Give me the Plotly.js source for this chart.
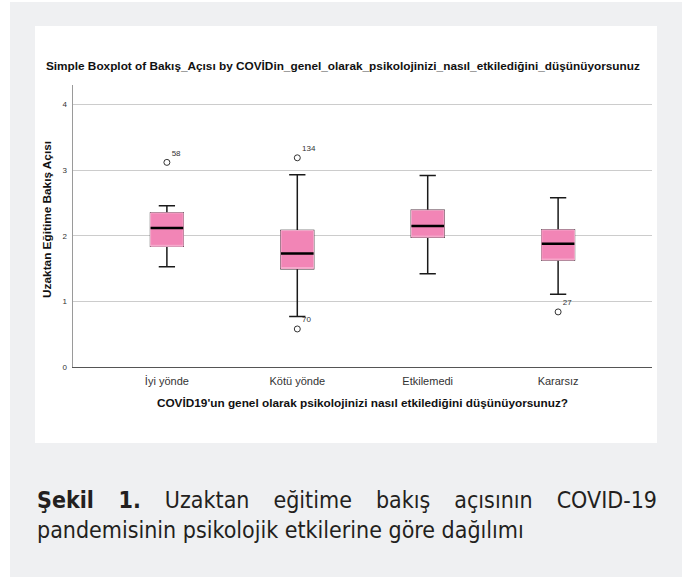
<!DOCTYPE html>
<html>
<head>
<meta charset="utf-8">
<script src="https://cdn.plot.ly/plotly-3.0.1.min.js"></script>
<style>
  html, body { margin: 0; padding: 0; background: #ffffff; width: 682px; height: 577px; overflow: hidden; }
  #bg { position: absolute; left: 10px; top: 2px; width: 672px; height: 575px; background: #eff0f2; }
  #chart { position: absolute; left: 35px; top: 26px; width: 622px; height: 417px; background: #ffffff; }
  #caption { position: absolute; left: 37px; top: 485px; width: 620px;
    font-family: "Liberation Sans Narrow", "DejaVu Sans Condensed", "Liberation Sans", sans-serif;
    font-stretch: condensed; font-size: 23px; line-height: 30px; color: #231f20;
    text-align: justify; }
</style>
</head>
<body>
<div id="bg"></div>
<div id="chart"></div>
<div id="caption"><b>Şekil 1.</b> Uzaktan eğitime bakış açısının COVID-19 pandemisinin psikolojik etkilerine göre dağılımı</div>
<script>
const categories = ['İyi yönde', 'Kötü yönde', 'Etkilemedi', 'Kararsız'];
const q1 = [1.84, 1.50, 1.98, 1.63];
const median = [2.12, 1.73, 2.15, 1.88];
const q3 = [2.35, 2.08, 2.39, 2.09];
const lowerWhisker = [1.53, 0.77, 1.42, 1.11];
const upperWhisker = [2.46, 2.93, 2.92, 2.58];
const outlierCat = ['İyi yönde', 'Kötü yönde', 'Kötü yönde', 'Kararsız'];
const outlierVal = [3.12, 3.19, 0.58, 0.84];
const outlierId = ['58', '134', '70', '27'];
const yTicks = [0, 1, 2, 3, 4];

const pink = '#f285b6';
const pinkEdge = '#f7b0d0';
const boxW = 0.25;

const whiskers = {
  type: 'box', x: categories, q1: q1, median: median, q3: q3,
  lowerfence: lowerWhisker, upperfence: upperWhisker,
  width: boxW, whiskerwidth: 0.5, boxpoints: false,
  fillcolor: pink, line: { color: '#1a1a1a', width: 1.5 },
  hoverinfo: 'skip', showlegend: false
};
const boxes = {
  type: 'box', x: categories, q1: q1, median: q1, q3: q3,
  lowerfence: q1, upperfence: q3,
  width: boxW, whiskerwidth: 0, boxpoints: false,
  fillcolor: pink, line: { color: pinkEdge, width: 1 },
  hoverinfo: 'skip', showlegend: false
};
const medians = {
  type: 'box', x: categories, q1: median, median: median, q3: median,
  lowerfence: median, upperfence: median,
  width: boxW, whiskerwidth: 0, boxpoints: false,
  fillcolor: 'rgba(0,0,0,0)', line: { color: '#000000', width: 2.5 },
  hoverinfo: 'skip', showlegend: false
};
const outliers = {
  type: 'scatter', mode: 'markers+text', x: outlierCat, y: outlierVal,
  text: outlierId, textposition: 'top right',
  textfont: { family: 'Liberation Sans, Arial, sans-serif', size: 8, color: '#333333' },
  marker: { symbol: 'circle-open', size: 6, color: '#333', line: { width: 1, color: '#333' } },
  hoverinfo: 'skip', showlegend: false
};

const layout = {
  width: 622, height: 417,
  margin: { l: 38, r: 5, t: 59, b: 76 },
  paper_bgcolor: '#ffffff', plot_bgcolor: '#ffffff',
  boxmode: 'overlay',
  font: { family: 'Liberation Sans, Arial, sans-serif', color: '#222' },
  title: {
    text: '<b>Simple Boxplot of Bakış_Açısı by COVİDin_genel_olarak_psikolojinizi_nasıl_etkilediğini_düşünüyorsunuz</b>',
    font: { size: 11.8, color: '#111' },
    xref: 'container', x: 0.495, xanchor: 'center',
    yref: 'container', y: 0.904, yanchor: 'middle'
  },
  xaxis: {
    type: 'category', range: [-0.72, 3.72],
    showgrid: false, zeroline: false,
    showline: true, linecolor: '#555', linewidth: 1,
    ticks: 'outside', ticklen: 4, tickcolor: 'rgba(0,0,0,0)',
    tickfont: { size: 11, color: '#333' },
    title: { text: '<b>COVİD19\'un genel olarak psikolojinizi nasıl etkilediğini düşünüyorsunuz?</b>',
      font: { size: 11.8, color: '#111' }, standoff: 12 }
  },
  yaxis: {
    range: [0, 4.3], tickvals: yTicks, ticktext: yTicks.map(String),
    showgrid: true, gridcolor: '#cccccc', gridwidth: 1,
    zeroline: false,
    showline: true, linecolor: '#9a9a9a', linewidth: 1.5,
    ticks: 'outside', ticklen: 3, tickcolor: 'rgba(0,0,0,0)',
    tickfont: { size: 8, color: '#333' }
  },
  annotations: [{
    text: '<b>Uzaktan Eğitime Bakış Açısı</b>', textangle: -90, showarrow: false,
    font: { size: 11.8, color: '#111' },
    xref: 'paper', x: -0.045, xanchor: 'center',
    yref: 'paper', y: 0.525, yanchor: 'middle'
  }]
};

Plotly.newPlot('chart', [whiskers, boxes, medians, outliers], layout, { staticPlot: true, displayModeBar: false });
</script>
</body>
</html>
